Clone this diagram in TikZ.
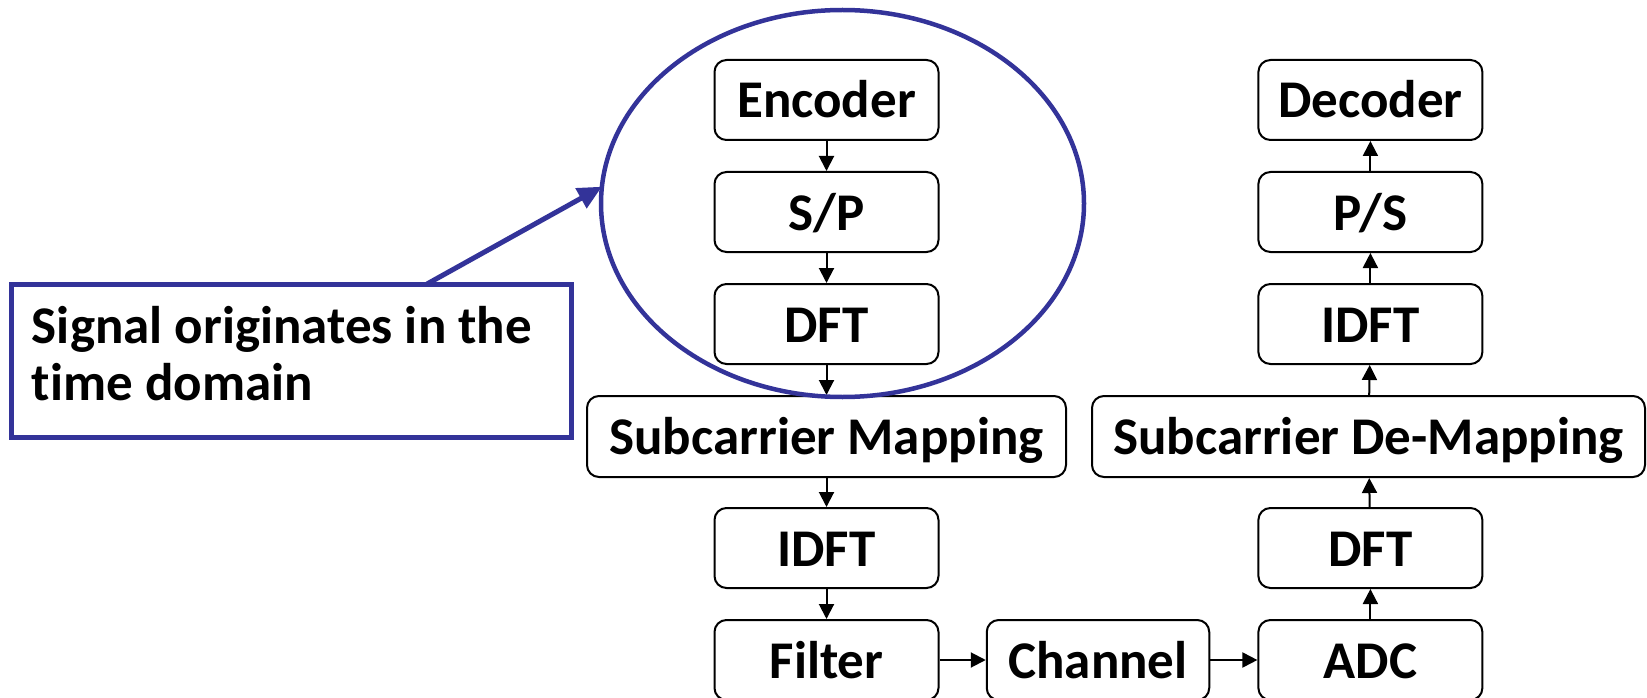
\documentclass[tikz,border=0pt]{standalone}
\usepackage{fontspec}
\setmainfont{Carlito}[Ligatures={NoCommon}]
\usetikzlibrary{arrows.meta,shapes.geometric,calc}
\definecolor{callblue}{RGB}{51,51,153}
\begin{document}
\begin{tikzpicture}[x=1pt,y=-1pt,
  blk/.style={draw=black, line width=2pt, rounded corners=12pt, minimum height=80pt, minimum width=224pt, inner sep=0pt, text height=39pt, text depth=3pt, font=\bfseries\fontsize{53}{53}\selectfont},
  flow/.style={draw=black, line width=2pt, -{Triangle[length=15pt,width=15pt]}},
  hl/.style={draw=callblue, line width=4.5pt},
]
\useasboundingbox (0,0) rectangle (1647,698);

% transmitter column
\node[blk] (enc) at (826.5,100) {Encoder};
\node[blk] (sp) at (826.5,212) {S/P};
\node[blk] (dft1) at (826.5,324) {DFT};
\node[blk, minimum width=479pt, minimum height=81pt] (map) at (826.5,436.5) {Subcarrier Mapping};
\node[blk] (idft1) at (826.5,548) {IDFT};
\node[blk] (filt) at (826.5,660) {Filter};

% channel
\node[blk, minimum width=222.5pt] (chan) at (1098,660) {Channel};

% receiver column
\node[blk] (adc) at (1370.4,660) {ADC};
\node[blk] (dft2) at (1370.4,548) {DFT};
\node[blk, minimum width=553pt, minimum height=81pt] (demap) at (1368.5,436.5) {Subcarrier De-Mapping};
\node[blk] (idft2) at (1370.4,324) {IDFT};
\node[blk] (ps) at (1370.4,212) {P/S};
\node[blk] (dec) at (1370.4,100) {Decoder};

% connectors
\draw[flow] (enc) -- (sp);
\draw[flow] (sp) -- (dft1);
\draw[flow] (dft1) -- (map);
\draw[flow] (map) -- (idft1);
\draw[flow] (idft1) -- (filt);
\draw[flow] (filt) -- (chan);
\draw[flow] (chan) -- (adc);
\draw[flow] (adc) -- (dft2);
\draw[flow] (dft2) -- (demap);
\draw[flow] (demap) -- (idft2);
\draw[flow] (idft2) -- (ps);
\draw[flow] (ps) -- (dec);

% highlight ellipse
\node[hl, ellipse, minimum width=483pt, minimum height=387pt, inner sep=0pt, outer sep=0pt] (circ) at (842.5,203.5) {};

% callout
\node[hl, line width=5pt, rectangle, anchor=north west, minimum width=560pt, minimum height=153.5pt, inner sep=0pt, outer sep=0pt] (callout) at (11,284) {};
\node[anchor=base west, align=left, inner sep=0pt, font=\bfseries\fontsize{53}{57}\selectfont] (calltext) at (31.7,400) {Signal originates in the\\time domain};
\coordinate (callstart) at ($(callout.north west)+(416,0)$);
\draw[callblue, line width=5pt, -{Triangle[length=24pt,width=22pt]}] (callstart) -- (circ.176);
\end{tikzpicture}
\end{document}
